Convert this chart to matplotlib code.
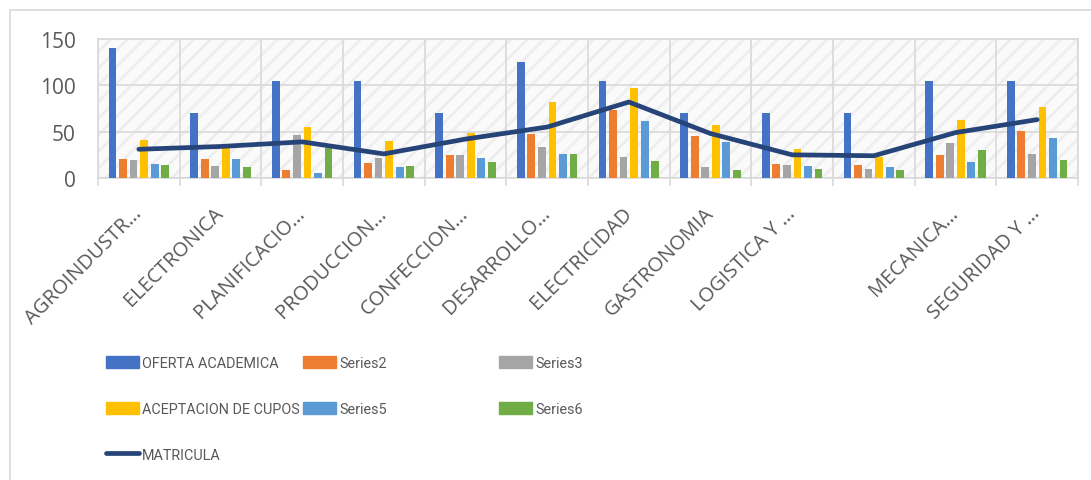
import matplotlib
matplotlib.use("Agg")
import matplotlib.pyplot as plt
import numpy as np
from matplotlib.patches import Rectangle, Patch
from matplotlib.lines import Line2D

categories = ["AGROINDUSTR…", "ELECTRONICA", "PLANIFICACIO…", "PRODUCCION…",
              "CONFECCION…", "DESARROLLO…", "ELECTRICIDAD", "GASTRONOMIA",
              "LOGISTICA Y …", "", "MECANICA…", "SEGURIDAD Y …"]
oferta = [140, 70, 105, 105, 70, 125, 105, 70, 70, 70, 105, 105]
series2 = [20, 20, 9, 16, 25, 48, 73, 45, 15, 14, 25, 51]
series3 = [19, 13, 46, 22, 25, 33, 23, 12, 14, 10, 38, 26]
aceptacion = [41, 32, 55, 40, 49, 82, 97, 57, 31, 23, 63, 77]
series5 = [15, 20, 5, 12, 22, 26, 62, 39, 13, 12, 17, 43]
series6 = [14, 12, 32, 13, 17, 26, 18, 9, 10, 9, 30, 19]
matricula = [31, 34, 39, 26, 42, 55, 82, 48, 25, 24, 49, 63]
bar_names = ["OFERTA ACADEMICA", "Series2", "Series3", "ACEPTACION DE CUPOS", "Series5", "Series6"]
line_name = "MATRICULA"
yticks = [0, 50, 100, 150]

bar_series = [oferta, series2, series3, aceptacion, series5, series6]
colors = ["#4472C4", "#ED7D31", "#A5A5A5", "#FFC000", "#5B9BD5", "#70AD47"]
line_color = "#264478"
text_color = "#595959"
grid_color = "#d9d9d9"

plt.rcParams['font.family'] = ['Open Sans', 'DejaVu Sans']
plt.rcParams['hatch.color'] = '#eeeeee'
plt.rcParams['hatch.linewidth'] = 2.0

W, H = 1091, 481
fig = plt.figure(figsize=(W / 100, H / 100), dpi=100)
ax = fig.add_axes([98 / W, 1 - 179 / H, (1078 - 98) / W, (179 - 40) / H])

n = len(categories)
x = np.arange(n)
pitch = 0.129
width = 0.096

# patterned background
ax.set_facecolor("#fafafa")
ax.add_patch(Rectangle((0, 0), 1, 1, transform=ax.transAxes, facecolor="none",
                       hatch="//", edgecolor="#eeeeee", linewidth=0, zorder=0))

for i, (vals, c) in enumerate(zip(bar_series, colors)):
    ax.bar(x + (i - 2.5) * pitch, vals, width=width, color=c, zorder=3)

ax.plot(x, matricula, color=line_color, linewidth=3.4, solid_capstyle="round", zorder=5)

ax.set_xlim(-0.5, n - 0.5)
ax.set_ylim(0, 150)
ax.set_yticks(yticks)
ax.set_yticklabels([str(v) for v in yticks], fontsize=15, color=text_color)
ax.tick_params(axis="y", length=0, pad=16)

ax.set_xticks(x)
ax.set_xticklabels(categories, fontsize=14.5, color=text_color, rotation=45,
                   ha="right", va="center", rotation_mode="anchor")
ax.tick_params(axis="x", which="major", length=0, pad=23)
ax.set_xticks(np.arange(n + 1) - 0.5, minor=True)
ax.tick_params(axis="x", which="minor", length=6, width=1.2, color=grid_color)

ax.grid(axis="y", which="major", color=grid_color, linewidth=1.2, zorder=1)
ax.grid(axis="x", which="minor", color=grid_color, linewidth=1.2, zorder=1)
ax.set_axisbelow(True)
for s in ax.spines.values():
    s.set_color(grid_color)
    s.set_linewidth(1.2)

# outer chart border
fig.patches.append(Rectangle((10 / W, -0.1), 1.2, (1 - 11 / H) + 0.1, transform=fig.transFigure,
                             facecolor="none", edgecolor=grid_color, linewidth=1.2))

# legend in three columns
handles = [Patch(color=c) for c in colors]
line_handle = Line2D([], [], color=line_color, linewidth=3.4, solid_capstyle="round")
cols = [
    ([handles[0], handles[3], line_handle], [bar_names[0], bar_names[3], line_name], 106),
    ([handles[1], handles[4]], [bar_names[1], bar_names[4]], 303),
    ([handles[2], handles[5]], [bar_names[2], bar_names[5]], 499),
]
fs = 10.4
leg_font = {"family": ["Roboto", "DejaVu Sans"], "size": fs}
for hs, ls, xp in cols:
    leg = fig.legend(hs, ls, loc="upper left", bbox_to_anchor=(xp / W, 1 - 357 / H),
                     frameon=False, prop=leg_font, handlelength=33 / (fs * 100 / 72),
                     handleheight=0.93, handletextpad=0.22, labelspacing=2.2,
                     borderpad=0, borderaxespad=0)
    for t in leg.get_texts():
        t.set_color(text_color)

fig.savefig("out.png", dpi=100)
